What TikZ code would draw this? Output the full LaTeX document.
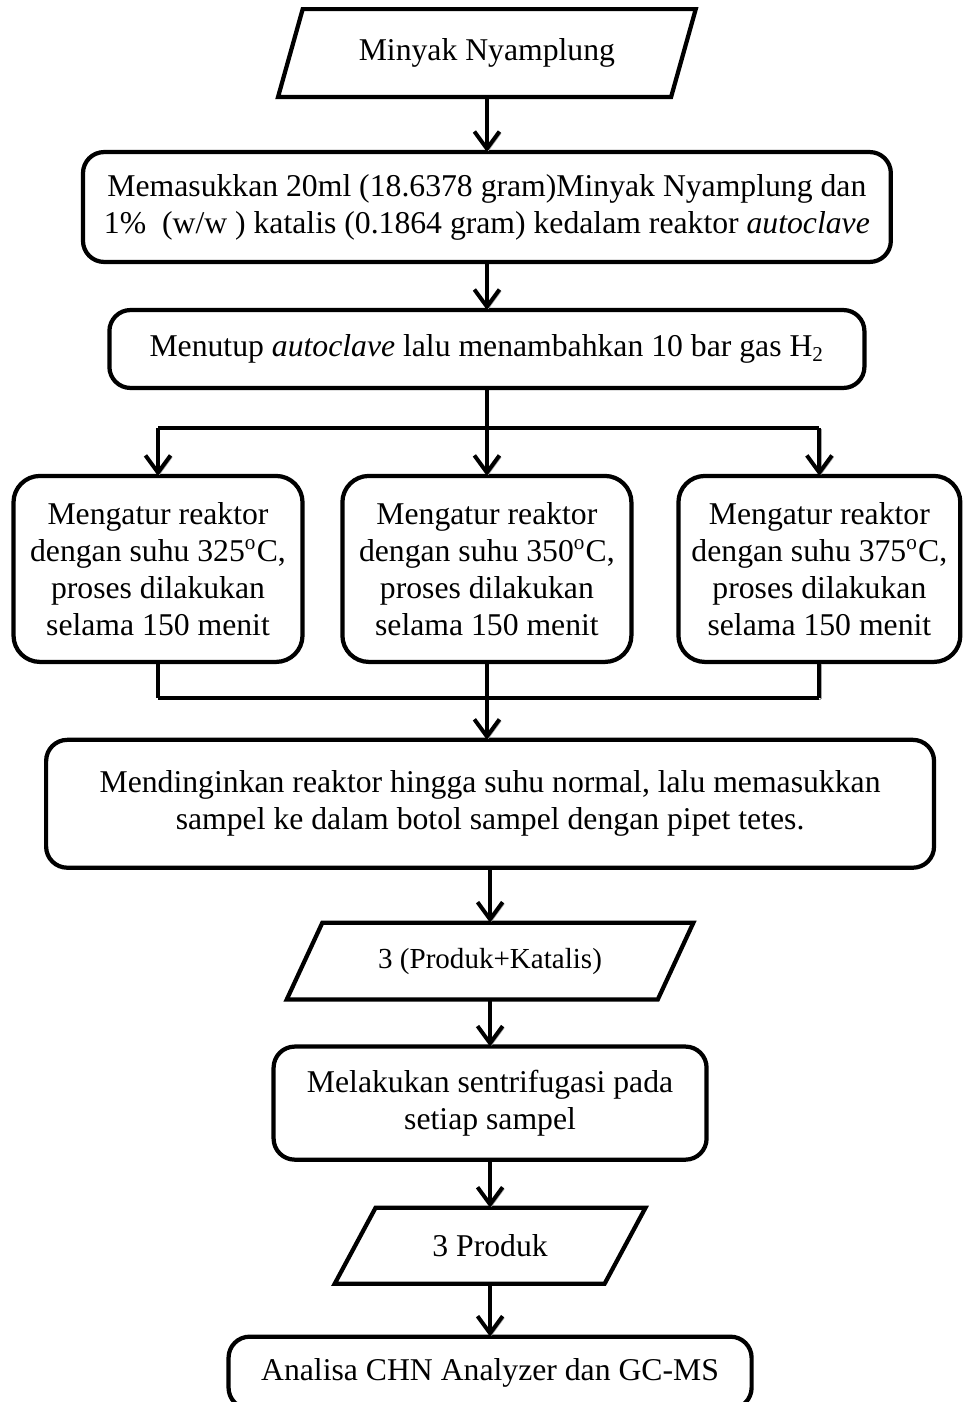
\documentclass[tikz,border=0pt]{standalone}
\usepackage{fontspec}
\setmainfont{Liberation Serif}
\usetikzlibrary{arrows.meta,positioning,shapes.geometric,calc}
\tikzset{
  >={Straight Barb[length=6.5pt,width=9.5pt]},
  line/.style={line width=1.5pt,draw=black,
    preaction={draw=black!35,transform canvas={shift={(0.6pt,-0.6pt)}}}},
  flow/.style={line,->},
  box/.style={rounded corners=8pt,draw=black,line width=1.6pt,align=center,
    font=\fontsize{12}{14}\selectfont,inner sep=2pt,outer sep=0pt},
  tempbox/.style={box,rounded corners=10pt,minimum width=109.4pt,minimum height=70.4pt},
  databox/.style={trapezium,trapezium stretches=true,draw=black,line width=1.6pt,
    font=\fontsize{12}{14}\selectfont,inner sep=2pt,outer sep=0pt}
}
\begin{document}
\begin{tikzpicture}[node distance=20pt]
  \clip (0,0) rectangle (364.9pt,-530.7pt);
  \node[databox,trapezium left angle=65.6,trapezium right angle=114.4,
    minimum width=158.2pt,minimum height=33.3pt] (oil) at (184.3pt,-20.1pt) {Minyak Nyamplung};
  \node[box,minimum width=305.8pt,minimum height=41.6pt,below=20.8pt of oil] (load)
    {Memasukkan 20ml (18.6378 gram)Minyak Nyamplung dan\\1\%\ \ (w/w ) katalis (0.1864 gram) kedalam reaktor \textit{autoclave}};
  \node[box,minimum width=285.8pt,minimum height=29.5pt,below=18.2pt of load] (seal)
    {Menutup \textit{autoclave} lalu menambahkan 10 bar gas H\textsubscript{2}};

  \node[tempbox,below=33.3pt of seal] (t350) {Mengatur reaktor\\dengan suhu 350\textsuperscript{o}C,\\proses dilakukan\\selama 150 menit};
  \node[tempbox,left=15.1pt of t350] (t325) {Mengatur reaktor\\dengan suhu 325\textsuperscript{o}C,\\proses dilakukan\\selama 150 menit};
  \node[tempbox,minimum width=106.7pt,right=17.8pt of t350] (t375) {Mengatur reaktor\\dengan suhu 375\textsuperscript{o}C,\\proses dilakukan\\selama 150 menit};

  \node[box,minimum width=336.1pt,minimum height=48.4pt,below=29.5pt of t350,xshift=1.2pt] (cool)
    {Mendinginkan reaktor hingga suhu normal, lalu memasukkan\\sampel ke dalam botol sampel dengan pipet tetes.};
  \node[databox,trapezium left angle=56,trapezium right angle=124,font=\fontsize{11}{13}\selectfont,
    minimum width=154pt,minimum height=29.1pt,below=20.8pt of cool] (mix) {3 (Produk+Katalis)};
  \node[box,minimum width=163.9pt,minimum height=42.8pt,below=17.8pt of mix] (spin)
    {Melakukan sentrifugasi pada\\setiap sampel};
  \node[databox,trapezium left angle=55.6,trapezium right angle=124.4,
    minimum width=118.1pt,minimum height=28.8pt,below=18.2pt of spin] (prod) {3 Produk};
  \node[box,minimum width=198pt,minimum height=27.3pt,below=20pt of prod] (test)
    {Analisa CHN Analyzer dan GC-MS};

  % split and merge points
  \coordinate (split) at ($(seal.south)+(0,-15.1pt)$);
  \coordinate (merge) at ($(t350.south)+(0,-13.6pt)$);

  \draw[flow] (oil.south) -- (load.north);
  \draw[flow] (load.south) -- (seal.north);
  \draw[line] (seal.south) -- (split);
  \draw[line] (t325.north |- split) -- (t375.north |- split);
  \foreach \t in {t325,t350,t375} \draw[flow] (\t.north |- split) -- (\t.north);
  \foreach \t in {t325,t350,t375} \draw[line] (\t.south) -- (\t.south |- merge);
  \draw[line] (t325.south |- merge) -- (t375.south |- merge);
  \draw[flow] (merge) -- (merge |- cool.north);
  \draw[flow] (cool.south -| mix.north) -- (mix.north);
  \draw[flow] (mix.south) -- (spin.north);
  \draw[flow] (spin.south) -- (prod.north);
  \draw[flow] (prod.south) -- (test.north);
\end{tikzpicture}
\end{document}
